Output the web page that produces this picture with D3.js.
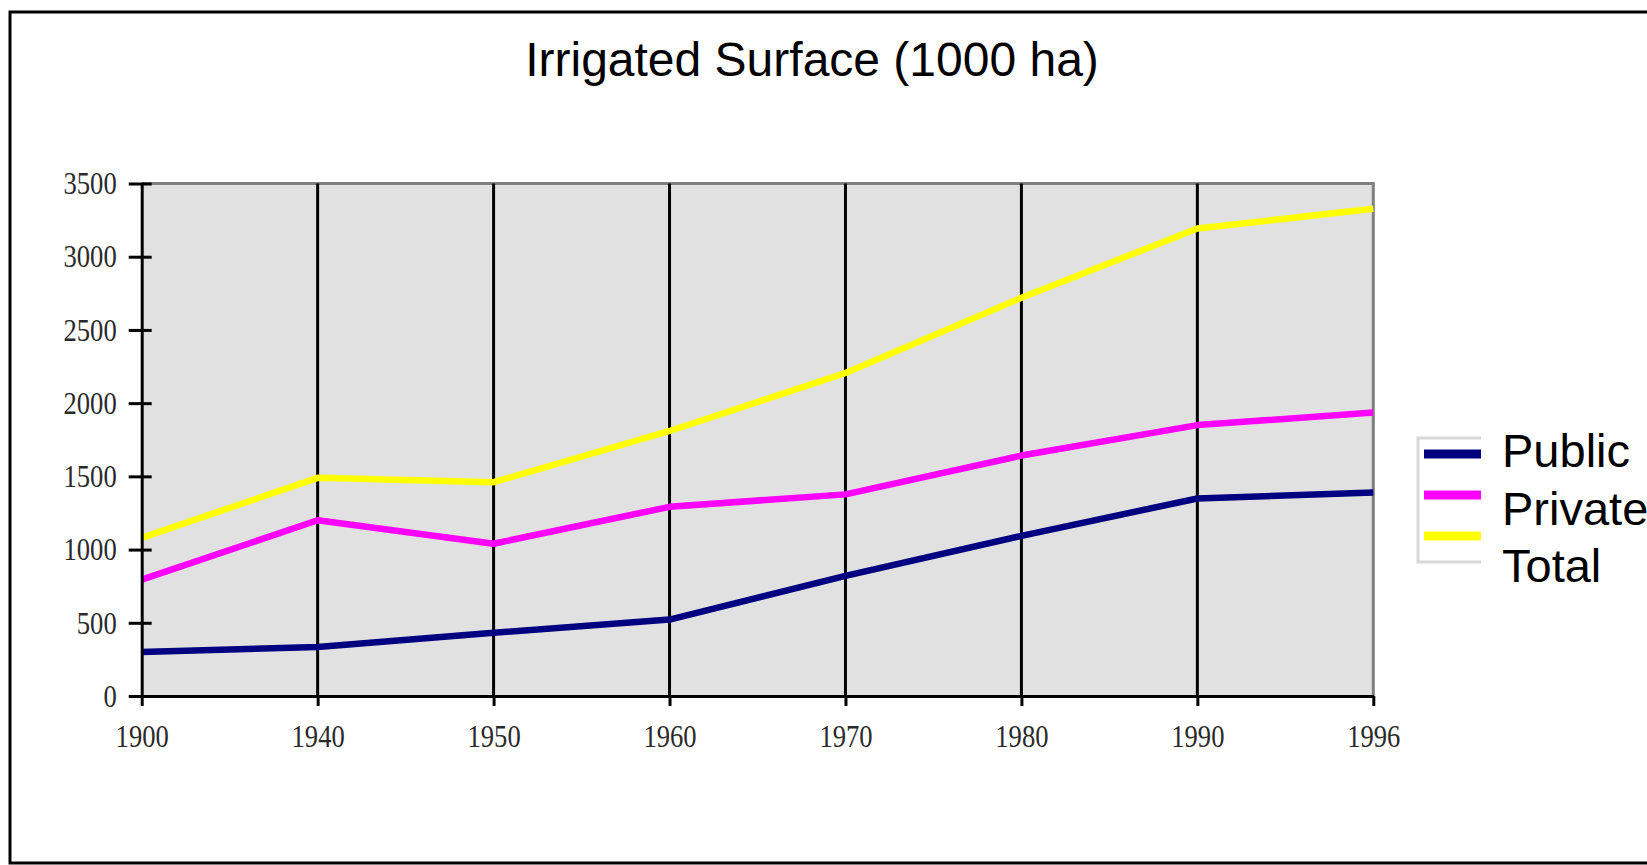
<!DOCTYPE html>
<html>
<head>
<meta charset="utf-8">
<script src="https://cdn.jsdelivr.net/npm/d3@7"></script>
<style>
    body{margin:0;background:#fff;overflow:hidden;}
    svg{display:block;}
</style>
</head>
<body>
<svg id="svg1" width="1647" height="865"></svg>
<script>
var years = ["1900","1940","1950","1960","1970","1980","1990","1996"];
var publicVals = [300, 335, 432, 522, 820, 1094, 1349, 1390];
var privateVals = [795, 1200, 1040, 1292, 1377, 1642, 1850, 1936];
var totalVals = [1080, 1490, 1460, 1810, 2206, 2720, 3192, 3328];
var seriesNames = ["Public", "Private", "Total"];
var yTicks = [0, 500, 1000, 1500, 2000, 2500, 3000, 3500];
var title = "Irrigated Surface (1000 ha)";

window.chart = {
    selector_svg: "#svg1",
    left: 141.7,
    right: 1373.3,
    top: 183.5,
    bottom: 696,
    colors: ["#000080", "#ff00ff", "#ffff00"],
    x: null,
    y: null,
    init: function(){
        this.x = d3.scalePoint().domain(years).range([this.left, this.right]);
        this.y = d3.scaleLinear().domain([0, 3500]).range([this.bottom, this.top]);
    },
    drawFrame: function(){
        var svg = d3.select(this.selector_svg);
        // outer border, its right side falls outside the picture
        svg.append("rect")
            .attr("x", 10).attr("y", 12)
            .attr("width", 1700).attr("height", 851)
            .attr("fill", "#fff")
            .attr("stroke", "#000")
            .attr("stroke-width", 3);
        svg.append("text")
            .attr("x", 812)
            .attr("y", 76)
            .attr("text-anchor", "middle")
            .attr("font-family", "'Liberation Sans', Arial, sans-serif")
            .attr("font-size", 48)
            .attr("fill", "#000")
            .text(title);
    },
    drawPlot: function(){
        var _this = this;
        var svg = d3.select(this.selector_svg);
        svg.append("rect")
            .attr("x", this.left).attr("y", this.top)
            .attr("width", this.right - this.left)
            .attr("height", this.bottom - this.top)
            .attr("fill", "#e1e1e1");
        // gray top and right edges
        svg.append("path")
            .attr("d", `M${this.left},${this.top}H${this.right}V${this.bottom}`)
            .attr("fill", "none")
            .attr("stroke", "#808080")
            .attr("stroke-width", 3);
        // vertical grid
        svg.append("g").selectAll("line")
            .data(years.slice(1, -1))
            .join("line")
            .attr("x1", d => _this.x(d)).attr("x2", d => _this.x(d))
            .attr("y1", this.top).attr("y2", this.bottom)
            .attr("stroke", "#000")
            .attr("stroke-width", 3);
    },
    styleLabels: function(sel){
        sel.attr("font-family", "'Liberation Serif', 'Times New Roman', serif")
            .attr("font-size", 32)
            .attr("fill", "#2a2a2a")
            .attr("textLength", function(){ return this.textContent.length * 13.3; })
            .attr("lengthAdjust", "spacingAndGlyphs");
    },
    drawAxes: function(){
        var svg = d3.select(this.selector_svg);

        var gy = svg.append("g")
            .attr("transform", `translate(${this.left},0)`)
            .call(d3.axisLeft(this.y).tickValues(yTicks).tickFormat(d3.format("d"))
                .tickSize(13).tickPadding(12).tickSizeOuter(0));
        gy.select(".domain").attr("stroke", "#000").attr("stroke-width", 3);
        gy.selectAll(".tick line").attr("x1", 10).attr("stroke", "#000").attr("stroke-width", 3);
        this.styleLabels(gy.selectAll(".tick text"));

        var gx = svg.append("g")
            .attr("transform", `translate(0,${this.bottom})`)
            .call(d3.axisBottom(this.x).tickSize(10).tickPadding(18).tickSizeOuter(0));
        gx.select(".domain").attr("stroke", "#000").attr("stroke-width", 3);
        gx.selectAll(".tick line").attr("stroke", "#000").attr("stroke-width", 3);
        this.styleLabels(gx.selectAll(".tick text"));

        svg.selectAll(".domain").attr("fill", "none");
        svg.selectAll(".tick text").attr("font-family", "'Liberation Serif', 'Times New Roman', serif");
    },
    drawLines: function(){
        var _this = this;
        var svg = d3.select(this.selector_svg);
        var all = [publicVals, privateVals, totalVals];
        var line = d3.line()
            .x((d, i) => _this.x(years[i]))
            .y(d => _this.y(d));
        all.forEach((vals, k) => {
            svg.append("path")
                .datum(vals)
                .attr("d", line)
                .attr("fill", "none")
                .attr("stroke", _this.colors[k])
                .attr("stroke-width", 6.5)
                .attr("stroke-linejoin", "round");
        });
    },
    drawLegend: function(){
        var _this = this;
        var svg = d3.select(this.selector_svg);
        var g = svg.append("g").attr("transform", "translate(1418,438)");
        // legend box: only left, top and bottom edges show
        g.append("path")
            .attr("d", "M63,0H0V124H63")
            .attr("fill", "none")
            .attr("stroke", "#d8d8d8")
            .attr("stroke-width", 3);
        var items = g.selectAll("g.item")
            .data(seriesNames)
            .join("g")
            .attr("class", "item");
        items.append("line")
            .attr("x1", 6).attr("x2", 63)
            .attr("y1", (d, i) => 16 + i * 41)
            .attr("y2", (d, i) => 16 + i * 41)
            .attr("stroke", (d, i) => _this.colors[i])
            .attr("stroke-width", 9);
        items.append("text")
            .attr("x", 84)
            .attr("y", (d, i) => 29 + i * 57.5)
            .attr("font-family", "'Liberation Sans', Arial, sans-serif")
            .attr("font-size", 47)
            .attr("fill", "#000")
            .text(d => d);
    },
    draw: function(){
        this.init();
        this.drawFrame();
        this.drawPlot();
        this.drawLines();
        this.drawAxes();
        this.drawLegend();
    }
};

chart.draw();
</script>
</body>
</html>
